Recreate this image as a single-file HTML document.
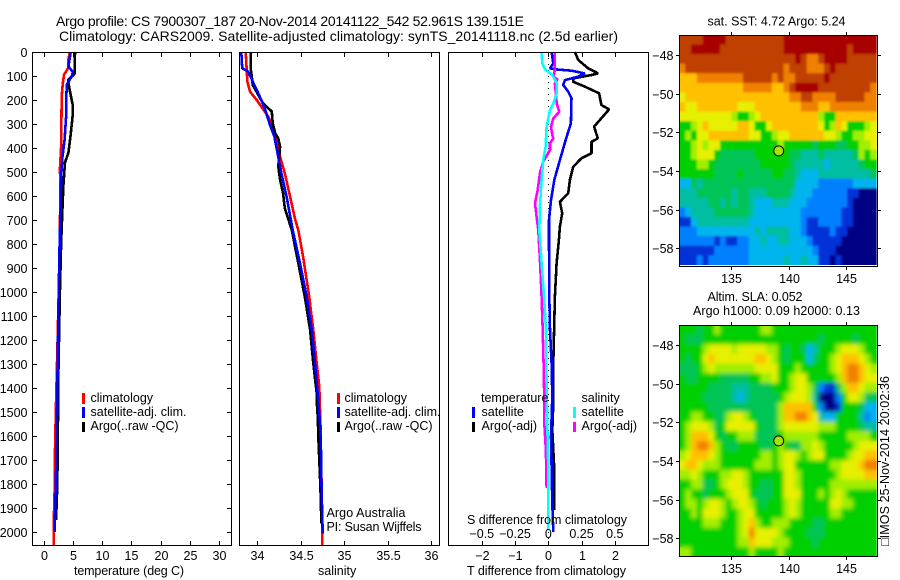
<!DOCTYPE html>
<html lang="en">
<head>
<meta charset="utf-8">
<title>Argo profile 7900307_187</title>
<style>
html,body{margin:0;padding:0;background:#fff;width:900px;height:580px;overflow:hidden}
svg{display:block;position:absolute;left:0;top:0}
text{font-family:"Liberation Sans",sans-serif;font-size:12.5px;fill:#000}
.title{font-size:14px}
</style>
</head>
<body>
<svg id="chart" width="900" height="580" viewBox="0 0 900 580" xmlns="http://www.w3.org/2000/svg">
  <defs>
    <filter id="smooth1" x="-5%" y="-5%" width="110%" height="110%"><feGaussianBlur stdDeviation="1"/></filter>
    <filter id="smooth2" x="-5%" y="-5%" width="110%" height="110%"><feGaussianBlur stdDeviation="2"/></filter>
    <clipPath id="clipMap1"><rect x="679.5" y="35.5" width="198" height="229.5"/></clipPath>
    <clipPath id="clipMap2"><rect x="679.5" y="325.5" width="198" height="231"/></clipPath>
  </defs>

  <rect width="900" height="580" fill="#fff"/>
  <text class="title" x="56" y="26" textLength="468" lengthAdjust="spacing">Argo profile: CS 7900307_187 20-Nov-2014 20141122_542 52.961S 139.151E</text>
  <text class="title" x="59" y="41" textLength="559" lengthAdjust="spacing">Climatology: CARS2009. Satellite-adjusted climatology: synTS_20141118.nc (2.5d earlier)</text>

  <g id="panels"></g>
  <g id="maps"></g>

  <text x="74" y="575" textLength="110">temperature (deg C)</text>
  <text x="318" y="575">salinity</text>
  <text x="467" y="575" textLength="159">T difference from climatology</text>
  <text x="467" y="524" textLength="160">S difference from climatology</text>

  <g>
    <rect x="82" y="393" width="3" height="11" fill="#f00"/>
    <rect x="82" y="407" width="3" height="11" fill="#00f"/>
    <rect x="82" y="422" width="3" height="10" fill="#000"/>
    <text x="90.5" y="402">climatology</text>
    <text x="90.5" y="416" textLength="96">satellite-adj. clim.</text>
    <text x="90.5" y="430" textLength="88">Argo(..raw -QC)</text>
  </g>
  <g>
    <rect x="337" y="393" width="3" height="11" fill="#f00"/>
    <rect x="337" y="407" width="3" height="11" fill="#00f"/>
    <rect x="337" y="422" width="3" height="10" fill="#000"/>
    <text x="344.5" y="402">climatology</text>
    <text x="344.5" y="416" textLength="96">satellite-adj. clim.</text>
    <text x="344.5" y="430" textLength="88">Argo(..raw -QC)</text>
  </g>
  <g>
    <text x="481" y="402">temperature</text>
    <text x="581.5" y="402">salinity</text>
    <rect x="472" y="407" width="3" height="11" fill="#00f"/>
    <rect x="472" y="422" width="3" height="10" fill="#000"/>
    <rect x="573" y="407" width="3" height="11" fill="#0ff"/>
    <rect x="573" y="422" width="3" height="10" fill="#f0f"/>
    <text x="481.5" y="416">satellite</text>
    <text x="481.5" y="430">Argo(-adj)</text>
    <text x="581.5" y="416">satellite</text>
    <text x="581.5" y="430">Argo(-adj)</text>
  </g>
  <text x="326.5" y="517" textLength="79">Argo Australia</text>
  <text x="326.5" y="531" textLength="95">PI: Susan Wijffels</text>

  <text x="707.5" y="25.5" textLength="138">sat. SST: 4.72 Argo: 5.24</text>
  <text x="707.5" y="301" textLength="95">Altim. SLA: 0.052</text>
  <text x="693" y="315" textLength="167">Argo h1000: 0.09 h2000: 0.13</text>
  <text transform="translate(889,546) rotate(-90)" textLength="170">□IMOS 25-Nov-2014 20:02:36</text>
</svg>

<script>
// ---------- tick labels ----------
var depthTicks = [0,100,200,300,400,500,600,700,800,900,1000,1100,1200,1300,1400,1500,1600,1700,1800,1900,2000];
var tempTicks = [0,5,10,15,20,25,30];
var salTicks = [34,34.5,35,35.5,36];
var tDiffTicks = [-2,-1,0,1,2];
var sDiffTicks = [-0.5,-0.25,0,0.25,0.5];
var lonTicks = [135,140,145];
var latTicks = [-48,-50,-52,-54,-56,-58];

// ---------- temperature panel ----------
var tempClimDepth = [0,30,65,95,135,185,295,395,490,560,800,1000,1200,1500,1700,1800,1950,2054];
var tempClimValue = [4.5,4.25,4.25,3.5,3.27,3.1,3.05,3.0,2.8,2.9,2.75,2.6,2.4,2.1,1.93,1.93,1.75,1.75];
var tempArgoDepth = [0,90,117,150,222,260,350,420,460,555,615,800,1000,1400,1600,1800,1950];
var tempArgoValue = [5.38,5.3,4.2,4.4,5.0,5.0,4.6,4.25,3.67,3.4,3.3,3.0,2.8,2.5,2.45,2.35,2.15];
var tempSatDepth = [0,60,83,100,135,200,270,365,435,520,615,800,1000,1400,1600,1800,2000];
var tempSatValue = [4.64,4.25,5.0,4.85,4.0,3.85,3.85,3.6,3.25,3.0,2.95,2.75,2.6,2.35,2.25,2.1,1.9];

// ---------- salinity panel ----------
var salClimDepth = [0,68,124,165,200,228,269,318,367,436,505,603,700,742,853,1019,1158,1297,1394,1560,1964,2054];
var salClimValue = [33.87,33.88,33.89,33.92,33.996,34.05,34.13,34.19,34.226,34.264,34.32,34.38,34.44,34.475,34.53,34.6,34.647,34.686,34.716,34.73,34.75,34.75];
var salArgoDepth = [0,75,103,137,179,214,248,297,339,360,394,478,533,589,651,742,880,1019,1158,1297,1422,1471,1533,1603,1700,1825,1964];
var salArgoValue = [33.93,33.93,33.94,33.95,34.015,34.07,34.17,34.18,34.21,34.245,34.265,34.245,34.265,34.3,34.32,34.4,34.475,34.55,34.61,34.647,34.686,34.69,34.7,34.705,34.716,34.73,34.74];
var salSatDepth = [0,68,82,130,172,235,304,353,429,505,603,700,742,880,1019,1158,1297,1436,1547,1644,1825,2006];
var salSatValue = [33.82,33.83,33.9,33.96,34.015,34.09,34.15,34.2,34.24,34.28,34.34,34.39,34.41,34.494,34.57,34.63,34.667,34.7,34.724,34.735,34.743,34.755];

// ---------- difference panel ----------
var dTempArgoDepth = [0,33,68,89,96,110,124,144,172,221,239,276,311,360,374,422,443,478,533,589,624,672,728,783,880,1019,1297,1464,1575,1742,1880,1908];
var dTempArgoValue = [0.8,0.9,1.2,1.5,1.3,0.75,0.75,1.1,1.53,1.6,1.83,1.6,1.38,1.49,1.3,1.3,1.0,0.75,0.65,0.6,0.35,0.42,0.35,0.32,0.25,0.2,0.15,0.15,0.12,0.18,0.18,0.18];
var dTempSatDepth = [0,47,68,72,78,89,103,117,137,165,193,297,367,450,533,617,700,783,1019,1158,1297,1436,1603,1880,2000];
var dTempSatValue = [0.1,0.15,0.05,0.2,0.7,1.1,0.9,0.5,0.45,0.6,0.7,0.68,0.52,0.35,0.18,0.08,0.02,0.02,0.03,0.05,0.1,0.12,0.08,0.12,0.15];
var dSalArgoDepth = [0,75,103,114,130,214,249,276,311,346,360,381,408,457,505,575,630,686,742,880,1019,1158,1366,1547,1658,1817];
var dSalArgoValue = [0.05,0.05,0.038,0.07,0.05,0.063,0.083,0.038,0.02,0.03,0.038,0.0125,0.0125,-0.038,-0.063,-0.08,-0.1,-0.088,-0.075,-0.062,-0.05,-0.042,-0.032,-0.03,-0.018,-0.0125];
var dSalSatDepth = [0,47,72,96,130,172,214,242,311,394,450,533,644,742,880,1019,1158,1436,1742,1992];
var dSalSatValue = [-0.05,-0.045,-0.025,0.03,0.063,0.063,0.038,0.0125,-0.0125,-0.02,-0.038,-0.05,-0.063,-0.068,-0.05,-0.032,-0.017,-0.012,0,0];

// ---------- map values: colour level per 0.5 degree cell, north to south ----------
var mapLevelColors = ['#000084','#0030d8','#0080ff','#00b4ee','#00bea2','#00c455','#00cf00','#a0ee00','#e6f000','#ffc000','#f08000','#bf4000','#a80000'];
var sstLevels = [
[11,11,11,11,12,12,12,12,11,11,11,11,11,11,11,11,11,11,12,12,12,12,12,12,12,12,12,12,12,12,12,12,12,12],
[11,11,12,12,12,12,12,11,11,11,11,11,11,11,11,11,11,11,12,12,12,12,12,12,12,12,12,12,12,11,12,12,12,12],
[11,11,11,11,11,11,11,11,11,11,11,11,11,11,11,11,11,11,11,11,12,11,10,10,11,12,12,12,12,11,11,11,11,11],
[10,11,11,11,11,11,11,11,11,11,11,11,11,11,11,11,11,11,10,11,11,11,10,10,10,11,12,11,11,11,11,11,11,11],
[9,9,9,10,10,10,10,10,10,10,10,11,11,11,11,11,10,11,10,10,11,11,11,11,11,12,11,11,11,11,11,11,11,11],
[9,9,9,9,9,9,9,9,9,9,9,10,10,10,10,10,9,9,10,11,12,12,12,12,11,11,11,11,11,11,11,11,11,10],
[8,9,9,9,9,9,9,9,9,9,9,9,9,9,9,9,9,9,9,10,10,11,11,10,10,10,10,11,11,11,11,11,10,10],
[9,8,8,9,9,9,9,9,9,9,8,8,8,9,9,9,9,9,9,9,9,10,10,10,9,9,10,10,10,10,10,10,10,10],
[8,8,8,8,8,8,8,8,8,7,6,6,7,8,9,9,9,9,9,9,9,9,9,9,7,6,6,9,9,9,9,9,9,9],
[6,6,7,8,9,8,8,8,8,8,9,9,8,6,6,8,9,9,9,9,9,9,9,9,8,6,7,9,8,6,6,6,7,8],
[6,7,6,8,8,9,9,9,9,9,9,9,8,8,6,6,7,8,8,9,9,9,9,9,9,8,8,7,6,6,7,7,8,8],
[6,6,7,8,7,8,8,6,6,6,6,6,6,6,6,6,6,7,6,6,6,6,6,5,6,6,6,5,5,6,6,7,7,8],
[6,6,7,8,8,8,6,5,5,5,5,5,5,6,6,6,6,6,6,5,5,4,4,4,5,4,4,4,4,4,5,7,6,7],
[6,6,6,7,7,6,5,5,5,5,5,5,5,5,6,6,6,6,6,5,4,4,4,4,4,3,4,4,4,4,4,5,6,6],
[6,6,6,6,6,6,5,5,5,5,6,5,5,5,5,5,6,6,5,5,4,3,3,3,4,4,4,4,4,4,4,4,4,5],
[3,3,5,4,5,5,5,5,5,5,5,5,5,5,5,5,5,5,5,5,3,3,3,3,2,2,2,2,2,2,3,3,3,3],
[4,4,4,5,5,5,5,5,5,4,5,5,4,4,4,5,5,5,5,4,3,3,3,2,2,2,2,2,2,1,1,0,0,0],
[4,4,4,4,4,5,5,4,5,4,5,5,4,3,3,3,4,4,4,3,3,3,2,2,2,2,2,2,2,1,0,0,0,0],
[2,3,4,4,4,4,5,5,5,5,5,5,4,3,3,3,3,3,3,3,3,2,2,2,2,2,2,2,1,1,0,0,0,0],
[1,1,3,4,4,4,4,4,4,4,4,4,3,3,3,3,3,3,3,3,3,2,1,1,2,2,2,2,1,1,0,0,0,0],
[2,2,2,3,3,3,3,3,3,3,3,3,3,4,3,4,4,4,4,3,3,2,1,1,1,1,2,1,1,0,0,0,0,0],
[2,2,2,2,2,2,1,2,1,1,2,2,3,3,4,3,3,4,4,3,3,3,2,1,1,1,1,1,0,0,0,0,0,0],
[1,1,1,1,1,1,2,2,2,2,2,2,3,3,3,3,3,3,3,3,3,3,3,2,1,1,1,0,0,0,0,0,0,0],
[1,1,1,2,1,2,2,2,2,2,2,2,3,3,3,3,3,3,4,3,3,4,3,3,1,1,0,1,0,0,0,0,0,0]
];
var slaLevels = [
[6,6,6,5,6,6,7,6,6,6,6,6,6,6,7,7,6,6,6,6,6,6,6,6,6,6,6,6,6,6,6,6,6,6],
[6,5,5,5,6,6,6,6,6,6,6,6,6,6,6,6,6,6,6,6,6,6,6,6,5,6,6,6,6,6,5,6,6,6],
[6,6,6,6,7,8,8,8,8,7,8,8,8,8,8,7,7,6,5,6,6,5,3,4,6,6,6,7,8,8,8,7,6,6],
[6,5,6,6,8,9,8,8,8,8,8,8,8,9,9,8,7,6,5,6,6,6,3,5,6,6,7,8,9,9,9,8,7,6],
[5,5,5,6,7,8,7,7,7,7,7,7,7,8,8,8,8,6,6,6,7,6,6,6,6,6,7,8,9,10,10,9,8,7],
[6,5,5,6,6,6,6,5,5,5,5,5,6,6,7,7,8,6,6,7,8,8,6,6,6,6,6,7,9,10,10,9,8,8],
[6,6,6,6,6,5,5,5,5,4,4,4,5,5,5,5,6,6,6,7,8,8,7,5,2,1,1,5,7,9,9,8,7,7],
[6,6,6,6,5,5,5,5,5,4,3,4,5,5,5,5,5,6,7,8,8,8,7,4,0,0,0,2,6,8,8,7,5,5],
[6,6,6,6,6,5,5,5,5,5,5,5,5,5,5,5,5,7,9,9,9,9,9,6,2,0,0,1,6,6,6,5,3,3],
[6,6,7,7,6,6,5,5,7,8,8,7,6,5,5,5,5,7,9,9,10,10,9,8,4,3,3,6,6,6,6,4,2,3],
[6,7,8,8,8,7,5,6,8,8,8,8,8,6,5,5,5,7,8,8,8,8,8,8,7,7,7,6,6,6,6,5,4,4],
[6,7,9,9,9,8,6,5,6,6,7,7,7,5,5,5,5,6,7,7,7,7,7,7,6,6,6,6,6,7,7,7,7,6],
[6,7,9,10,10,9,7,6,5,5,6,6,6,6,5,5,6,7,6,5,5,7,7,8,7,6,6,6,6,6,7,8,8,8],
[7,8,9,9,9,8,7,6,6,6,6,6,6,6,7,7,6,7,8,8,7,6,7,8,8,6,6,6,6,7,8,8,9,9],
[8,9,9,8,7,7,7,6,6,6,6,6,6,7,7,7,6,7,8,8,6,6,6,6,6,6,7,7,8,8,8,9,10,10],
[7,7,8,7,6,6,6,7,7,8,8,7,6,6,6,6,6,6,8,8,7,6,6,6,6,6,6,7,8,8,8,8,9,9],
[6,6,7,7,5,5,6,7,8,8,8,7,6,6,5,5,6,6,8,8,7,6,6,6,6,6,7,7,7,7,7,7,7,7],
[6,7,6,6,5,6,6,6,7,8,8,8,6,5,5,5,6,6,8,8,8,6,6,6,7,6,7,8,7,6,6,6,6,6],
[6,7,7,6,7,8,8,7,6,7,8,8,7,6,5,6,6,6,7,8,7,6,6,6,6,6,8,8,7,7,6,6,6,6],
[6,6,7,6,8,8,8,7,6,6,7,8,8,6,6,6,6,6,7,8,7,6,6,6,6,6,7,7,6,6,6,6,6,6],
[6,6,6,6,7,7,7,6,6,6,7,8,9,7,6,6,7,7,7,6,6,6,6,5,5,6,6,6,6,6,6,6,6,6],
[6,6,6,6,6,6,6,6,6,6,7,8,10,8,8,8,8,7,6,6,6,6,5,5,5,6,6,6,6,6,6,6,6,6],
[6,6,6,6,6,6,6,6,6,6,7,7,9,8,8,8,7,7,7,6,6,6,6,5,6,6,6,6,6,6,6,6,6,6],
[7,7,6,6,6,6,6,6,6,6,6,6,7,6,6,6,6,7,6,6,6,6,6,6,6,6,6,6,6,6,6,6,6,6]
];
var floatLon = [139.151];
var floatLat = [-52.961];

// ---------- helpers ----------
var NS = 'http://www.w3.org/2000/svg';
var panelsG = document.getElementById('panels');
var mapsG = document.getElementById('maps');

function make(tag, parent) {
  var node = document.createElementNS(NS, tag);
  parent.appendChild(node);
  return node;
}
function seg(parent, x1, y1, x2, y2, name) {
  var l = make('line', parent);
  l.setAttribute('x1', x1); l.setAttribute('y1', y1);
  l.setAttribute('x2', x2); l.setAttribute('y2', y2);
  l.setAttribute('stroke', '#000');
  l.setAttribute('shape-rendering', 'crispEdges');
  
  
}
function label(parent, x, y, str, anchor, name) {
  var t = make('text', parent);
  t.setAttribute('x', x); t.setAttribute('y', y);
  t.setAttribute('text-anchor', anchor);
  t.textContent = str;
  
  
}
function frame(parent, x, y, w, h, name) {
  var r = make('rect', parent);
  r.setAttribute('x', x); r.setAttribute('y', y);
  r.setAttribute('width', w); r.setAttribute('height', h);
  r.setAttribute('fill', 'none');
  r.setAttribute('stroke', '#000');
  r.setAttribute('shape-rendering', 'crispEdges');
  
  
}
function minusText(v) { return String(v).replace('-', '\u2212'); }

// ---------- axis functions ----------
function yDepth(d) { return 52 + 0.24 * d; }
function xTemp(v) { return 43.5 + 5.86 * v; }
function xSal(v) { return 257 + 87 * (v - 34); }
function xTDiff(v) { return 548.3 + 33.2 * v; }
function xSDiff(v) { return 548.3 + 133 * v; }
function xLon(v) { return 730.7 + 11.56 * (v - 135); }
function yLat1(v) { return 55 + 19.33 * (-48 - v); }
function yLat2(v) { return 345 + 19.33 * (-48 - v); }

function profile(parent, depths, values, xFn, color, name) {
  var p = make('polyline', parent);
  var pts = [];
  for (var i = 0; i < depths.length; i++) {
    pts.push(xFn(values[i]).toFixed(1) + ',' + yDepth(depths[i]).toFixed(1));
  }
  p.setAttribute('points', pts.join(' '));
  p.setAttribute('fill', 'none');
  p.setAttribute('stroke', color);
  p.setAttribute('stroke-width', '2.6');
  p.setAttribute('stroke-linejoin', 'bevel');
  p.setAttribute('shape-rendering', 'crispEdges');
  
  
}

// ---------- temperature panel ----------
profile(panelsG, tempClimDepth, tempClimValue, xTemp, '#f00', 'temperature-climatology-line');
profile(panelsG, tempArgoDepth, tempArgoValue, xTemp, '#000', 'temperature-argo-line');
profile(panelsG, tempSatDepth, tempSatValue, xTemp, '#00f', 'temperature-satellite-line');
frame(panelsG, 32.5, 52.5, 199, 493, 'temperature-plot-frame');
depthTicks.forEach(function (d) {
  var y = Math.round(yDepth(d)) + 0.5;
  seg(panelsG, 33, y, 37, y, 'depth-tick');
  seg(panelsG, 227, y, 231, y, 'depth-tick-right');
  label(panelsG, 27.5, y + 4.5, d, 'end', 'depth-tick-label');
});
tempTicks.forEach(function (v) {
  var x = Math.round(xTemp(v)) + 0.5;
  seg(panelsG, x, 53, x, 57, 'temperature-tick-top');
  seg(panelsG, x, 541, x, 545, 'temperature-tick');
  label(panelsG, x, 560, v, 'middle', 'temperature-tick-label');
});

// ---------- salinity panel ----------
profile(panelsG, salClimDepth, salClimValue, xSal, '#f00', 'salinity-climatology-line');
profile(panelsG, salArgoDepth, salArgoValue, xSal, '#000', 'salinity-argo-line');
profile(panelsG, salSatDepth, salSatValue, xSal, '#00f', 'salinity-satellite-line');
frame(panelsG, 239.5, 52.5, 200, 493, 'salinity-plot-frame');
salTicks.forEach(function (v) {
  var x = Math.round(xSal(v)) + 0.5;
  seg(panelsG, x, 53, x, 57, 'salinity-tick-top');
  seg(panelsG, x, 541, x, 545, 'salinity-tick');
  label(panelsG, x, 560, v, 'middle', 'salinity-tick-label');
});

// ---------- difference panel ----------
var zero = make('line', panelsG);
zero.setAttribute('x1', xTDiff(0)); zero.setAttribute('x2', xTDiff(0));
zero.setAttribute('y1', yDepth(0)); zero.setAttribute('y2', 545);
zero.setAttribute('stroke', '#000');
zero.setAttribute('stroke-dasharray', '1 5');
zero.setAttribute('shape-rendering', 'crispEdges');


profile(panelsG, dTempArgoDepth, dTempArgoValue, xTDiff, '#000', 't-difference-argo-line');
profile(panelsG, dTempSatDepth, dTempSatValue, xTDiff, '#00f', 't-difference-satellite-line');
profile(panelsG, dSalArgoDepth, dSalArgoValue, xSDiff, '#f0f', 's-difference-argo-line');
profile(panelsG, dSalSatDepth, dSalSatValue, xSDiff, '#0ff', 's-difference-satellite-line');
frame(panelsG, 448.5, 52.5, 200, 493, 'difference-plot-frame');
tDiffTicks.forEach(function (v) {
  var x = Math.round(xTDiff(v)) + 0.5;
  seg(panelsG, x, 53, x, 57, 't-difference-tick-top');
  seg(panelsG, x, 541, x, 545, 't-difference-tick');
  label(panelsG, x, 560, minusText(v), 'middle', 't-difference-tick-label');
});
sDiffTicks.forEach(function (v) {
  label(panelsG, xSDiff(v), 538, minusText(v), 'middle', 's-difference-tick-label');
});

// ---------- maps ----------
function drawMap(levels, yFn, dLat, clipId, blurId, gid, top, bottom, cellName) {
  var holder = make('g', mapsG);
  holder.setAttribute('clip-path', 'url(#' + clipId + ')');
  
  
  var cells = make('g', holder);
  cells.setAttribute('id', gid);
  for (var r = 0; r < levels.length; r++) {
    for (var c = 0; c < levels[r].length; c++) {
      var cell = make('rect', cells);
      var x0 = xLon(130.57 + 0.5 * c), x1 = xLon(130.57 + 0.5 * (c + 1));
      var y0 = yFn(-46.96 - dLat * r), y1 = yFn(-46.96 - dLat * (r + 1));
      cell.setAttribute('x', x0.toFixed(2));
      cell.setAttribute('y', y0.toFixed(2));
      cell.setAttribute('width', (x1 - x0 + 0.4).toFixed(2));
      cell.setAttribute('height', (y1 - y0 + 0.4).toFixed(2));
      cell.setAttribute('fill', mapLevelColors[levels[r][c]]);
      
      
    }
  }
  var soft = make('use', holder);
  soft.setAttribute('href', '#' + gid);
  soft.setAttribute('filter', 'url(#' + blurId + ')');
  
  

  frame(mapsG, 679.5, top + 0.5, 198, bottom - top, cellName + '-map-frame');
  lonTicks.forEach(function (v) {
    var x = Math.round(xLon(v)) + 0.5;
    seg(mapsG, x, top - 3, x, top, cellName + '-lon-tick-top');
    seg(mapsG, x, bottom + 1, x, bottom + 4, cellName + '-lon-tick');
    label(mapsG, x, bottom + 17, v, 'middle', cellName + '-lon-label');
  });
  latTicks.forEach(function (v) {
    var y = Math.round(yFn(v)) + 0.5;
    seg(mapsG, 676, y, 679, y, cellName + '-lat-tick');
    seg(mapsG, 878, y, 881, y, cellName + '-lat-tick-right');
    label(mapsG, 673.5, y + 4.5, minusText(v), 'end', cellName + '-lat-label');
  });
  var dot = make('circle', mapsG);
  dot.setAttribute('cx', xLon(floatLon[0]).toFixed(1));
  dot.setAttribute('cy', yFn(floatLat[0]).toFixed(1));
  dot.setAttribute('r', '5');
  dot.setAttribute('fill', '#a4e600');
  dot.setAttribute('stroke', '#000');
  
  
}
drawMap(sstLevels, yLat1, 0.4958, 'clipMap1', 'smooth1', 'sstCells', 35, 266, 'sst');
drawMap(slaLevels, yLat2, 0.5, 'clipMap2', 'smooth2', 'slaCells', 325, 556, 'sla');
</script>
</body>
</html>
